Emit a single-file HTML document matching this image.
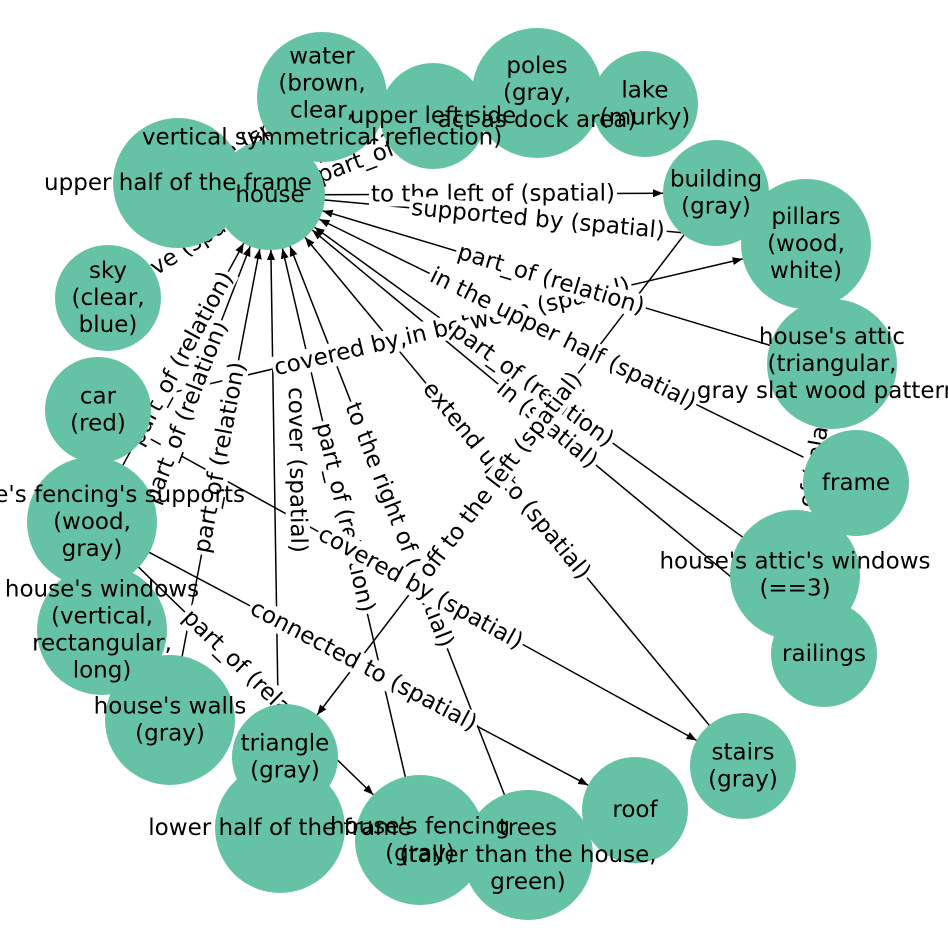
<!DOCTYPE html>
<html><head><meta charset="utf-8"><style>
html,body{margin:0;padding:0;background:#fff;}
svg{display:block;}
text{font-family:"DejaVu Sans","Liberation Sans",sans-serif;font-size:23px;fill:#000;}
</style></head><body>
<svg id="s" width="948" height="948" viewBox="0 0 948 948" xmlns="http://www.w3.org/2000/svg">
<defs><marker id="a" viewBox="0 0 10 10" refX="10" refY="5" markerWidth="10" markerHeight="10" markerUnits="userSpaceOnUse" orient="auto"><path d="M0,1 L10,5 L0,9 z" fill="#000"/></marker></defs>
<g id="E"></g><g id="L"></g><g id="N"></g><g id="T"></g>
</svg>
<script>
var N={
water:[322,97,65,["water","(brown,","clear,","vertical symmetrical reflection)"]],
uls:[433,116,53,["upper left side"]],
poles:[537,93,65,["poles","(gray,","act as dock area)"]],
lake:[645,104,53,["lake","(murky)"]],
uhf:[178,183,65,["upper half of the frame"]],
house:[270,195,55,["house"]],
building:[716,193,53,["building","(gray)"]],
pillars:[806,244,65,["pillars","(wood,","white)"]],
sky:[108,298,53,["sky","(clear,","blue)"]],
attic:[832,364,65,["house's attic","(triangular,","gray slat wood pattern)"]],
car:[98,410,53,["car","(red)"]],
frame:[856,483,53,["frame"]],
fsup:[92,522,65,["house's fencing's supports","(wood,","gray)"]],
awin:[795,575,65,["house's attic's windows","(==3)"]],
win:[102,630,65,["house's windows","(vertical,","rectangular,","long)"]],
rail:[824,654,53,["railings"]],
walls:[170,720,65,["house's walls","(gray)"]],
stairs:[743,766,53,["stairs","(gray)"]],
lhf:[280,828,65,["lower half of the frame"]],
tri:[285,757,53,["triangle","(gray)"]],
fence:[420,840,65,["house's fencing","(gray)"]],
trees:[528,855,65,["trees","(taller than the house,","green)"]],
roof:[635,810,53,["roof"]]
};
var order=["water","uls","poles","lake","uhf","house","building","pillars","sky","attic","car","frame","fsup","awin","win","rail","walls","stairs","lhf","tri","fence","trees","roof"];
var E=[
["house","building","to the left of (spatial)"],
["house","pillars","supported by (spatial)"],
["car","pillars","covered by,in between (spatial)"],
["attic","house","part_of (relation)"],
["frame","house","in the upper half (spatial)"],
["awin","house","part_of (relation)"],
["rail","house","in (spatial)"],
["stairs","house","extend up to (spatial)"],
["trees","house","to the right of (spatial)"],
["fence","house","part_of (relation)"],
["lhf","house","cover (spatial)",[297,470]],
["walls","house","part_of (relation)"],
["win","house","part_of (relation)"],
["fsup","house","part_of (relation)"],
["sky","house","above (spatial)"],
["car","stairs","covered by (spatial)"],
["fsup","roof","connected to (spatial)"],
["fsup","fence","part_of (relation)"],
["building","tri","off to the left (spatial)"],
["house","uls","next to (spatial)"],
["house","poles","part_of (spatial)"],
["uhf","water","above (spatial)"],
["awin","attic","part_of (relation)"]
];
var ns="http://www.w3.org/2000/svg";
function el(t,a,p,txt){var e=document.createElementNS(ns,t);for(var k in a)e.setAttribute(k,a[k]);if(txt!=null)e.textContent=txt;document.getElementById(p).appendChild(e);return e;}
E.forEach(function(e){
var s=N[e[0]],t=N[e[1]];var dx=t[0]-s[0],dy=t[1]-s[1],d=Math.sqrt(dx*dx+dy*dy);var ux=dx/d,uy=dy/d;
var x1=s[0]+ux*s[2]*0.9,y1=s[1]+uy*s[2]*0.9,x2=t[0]-ux*t[2],y2=t[1]-uy*t[2];
el("line",{x1:x1,y1:y1,x2:x2,y2:y2,stroke:"#000","stroke-width":1.5,"marker-end":"url(#a)"},"E");
var mx=(s[0]+t[0])/2,my=(s[1]+t[1])/2;if(e[3]){mx=e[3][0];my=e[3][1];}
var ang=Math.atan2(dy,dx)*180/Math.PI;if(ang>90)ang-=180;if(ang<-90)ang+=180;
var tr="rotate("+ang+" "+mx+" "+my+")";
var g=el("g",{transform:tr},"L");
var r=document.createElementNS(ns,"rect");g.appendChild(r);
var tx=document.createElementNS(ns,"text");tx.setAttribute("x",mx);tx.setAttribute("y",my);tx.setAttribute("text-anchor","middle");tx.setAttribute("dominant-baseline","central");tx.textContent=e[2];g.appendChild(tx);
try{var b=tx.getBBox();r.setAttribute("x",b.x-2);r.setAttribute("y",b.y+1);r.setAttribute("width",b.width+4);r.setAttribute("height",b.height-2);r.setAttribute("fill","#fff");}catch(z){}
});
order.forEach(function(k){var n=N[k];el("circle",{cx:n[0],cy:n[1],r:n[2],fill:"#66c2a5"},"N");
var L=n[3],h=27,y0=n[1]-(L.length-1)*h/2;
L.forEach(function(s,i){el("text",{x:n[0],y:y0+i*h,"text-anchor":"middle","dominant-baseline":"central"},"T",s);});});
</script>
</body></html>
